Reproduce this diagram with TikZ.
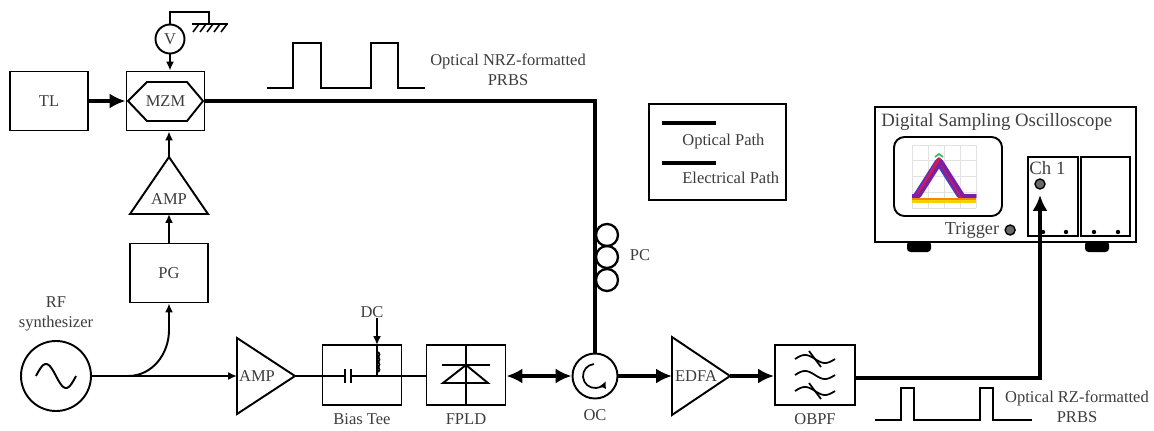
\documentclass[tikz,border=0pt]{standalone}
\usepackage{fontspec}
\setmainfont{Liberation Serif}
\usepackage{tikz}
\usetikzlibrary{arrows.meta,positioning,calc}
\definecolor{LabelGray}{HTML}{3C3C3C}
\definecolor{PanelGray}{HTML}{404040}
\definecolor{GridGray}{HTML}{E2E2E2}
\definecolor{KnobGray}{HTML}{6A6A6A}
\definecolor{EyeYellow}{HTML}{F2D500}
\definecolor{EyeOrange}{HTML}{F08A00}
\definecolor{EyeRed}{HTML}{D6202A}
\definecolor{EyeMagenta}{HTML}{C0198C}
\definecolor{EyePurple}{HTML}{7A1FA8}
\definecolor{EyeBlue}{HTML}{3A4BD0}
\definecolor{EyeGreen}{HTML}{3DBB5A}

\begin{document}
\begin{tikzpicture}[
  x=0.2mm,y=0.2mm,
  lbl/.style={font=\fontsize{9.4}{11.4}\selectfont,text=LabelGray,align=center,inner sep=0pt},
  box/.style={draw,line width=1.1pt,minimum width=15.6mm,minimum height=11.8mm,inner sep=0pt,font=\fontsize{9.4}{11}\selectfont,text=LabelGray},
  dev/.style={draw,line width=1.1pt,line join=miter},
  elec/.style={line width=1.1pt},
  earr/.style={elec,-{Latex[length=5pt,width=4.5pt]}},
  opt/.style={line width=2.8pt},
  oarr/.style={opt,-{Latex[length=9pt,width=8.5pt]}},
  port/.style={circle,draw,line width=0.8pt,fill=KnobGray,minimum size=2mm,inner sep=0pt},
  panel/.style={draw,line width=1.1pt,inner sep=0pt}
]
\useasboundingbox (0,0) rectangle (1154,430);

\node[box] (tl) at (49,329) {TL};
\node[box] (mzm) at (165.5,329) {MZM};
\draw[dev] (128,329) -- (147,348) -- (187,348) -- (203,329) -- (187,309) -- (147,309) -- cycle;
\node[circle,draw,line width=1.1pt,minimum size=5.8mm,inner sep=0pt,font=\fontsize{9.4}{11}\selectfont,text=LabelGray] (vm) at (170,391) {V};
\coordinate (gnd) at (209,406);
\draw[elec] (vm.north) |- (209,418) -- (gnd);
\draw[elec] ($(gnd)+(-17,0)$) -- ++(36,0);
\foreach \k in {0,...,4} \draw[line width=0.9pt] ($(gnd)+(-10+7*\k,0)$) -- ++(-6,-8);
\draw[earr] (vm.south) -- (vm.south |- mzm.north);
\draw[oarr] (tl.east) -- (mzm.west);

\coordinate (amp1out) at (169,273);
\coordinate (amp1in) at (169,216);
\draw[dev] (130,216) -- (208,216) -- (amp1out) -- cycle;
\node[lbl] (amp1) at (169,231) {AMP};
\draw[earr] (amp1out) -- (amp1out |- mzm.south);
\node[box] (pg) at (169,157) {PG};
\draw[earr] (pg.north) -- (amp1in);

\node[circle,draw,line width=1.1pt,minimum size=14mm,inner sep=0pt] (rf) at (56,54) {};
\draw[elec,domain=0:360,samples=50] plot ({36+\x/9},{54+12*sin(\x)});
\node[lbl,above=1.8mm of rf] (rflbl) {RF\\synthesizer};
\coordinate (split) at (128,54);
\coordinate (amp2in) at (237,54);
\coordinate (amp2out) at (295,54);
\draw[earr] (rf.east) -- (amp2in);
\draw[earr] (split) to[out=0,in=-90] (169,100) -- (pg.south);
\draw[dev] (237,92) -- (amp2out) -- (237,16) -- cycle;
\node[lbl] (amp2) at (257,54) {AMP};

\node[box,minimum width=15.8mm,minimum height=12mm] (tee) at (362,55) {};
\node[lbl,below=1.5mm of tee] (teelbl) {Bias Tee};
\draw[elec] (amp2out) -- (345,54) (351,54) -- (amp2out -| tee.east);
\draw[line width=1.3pt] (345,47) -- (345,61) (351,47) -- (351,61);
\coordinate (dcin) at (377,85);
\draw[elec] (377,54) -- (dcin);
\foreach \k in {0,...,3} \draw[line width=1pt] (377,{58+5*\k}) arc (-90:90:2.5);
\node[lbl] (dc) at (372,118) {DC};
\draw[earr] (dc.south -| dcin) -- (dcin);

\node[box,minimum width=15.8mm,minimum height=12mm] (fpld) at (466,55) {};
\draw[elec] (fpld.north) -- (fpld.south);
\draw[elec] (442,65) -- (490,65);
\draw[dev] (443,47) -- (488,47) -- (466,65) -- cycle;
\node[lbl,below=1.5mm of fpld] (fpldlbl) {FPLD};
\draw[elec] (amp2out -| tee.east) -- (amp2out -| fpld.west);

\node[circle,draw,line width=1.1pt,minimum size=9mm,inner sep=0pt] (oc) at (595,54) {};
\draw[line width=1pt,-{Latex[length=4pt,width=4pt]}] ([shift={(95:12)}]oc.center) arc (95:335:12);
\node[lbl,below=2mm of oc] (oclbl) {OC};
\draw[opt,{Latex[length=9pt,width=8.5pt]}-{Latex[length=9pt,width=8.5pt]}] (fpld.east |- oc.west) -- (oc.west);
\draw[opt] (mzm.east) -| (oc.north);
\foreach \yy in {150,173,195} \draw[line width=1.3pt] (607,\yy) circle (11);
\node[lbl] (pclbl) at (640,175) {PC};

\coordinate (edfain) at (672,54);
\coordinate (edfaout) at (730,54);
\draw[dev] (672,93) -- (edfaout) -- (672,15) -- cycle;
\node[lbl] (edfa) at (696,54) {EDFA};
\draw[oarr] (oc.east) -- (edfain);

\node[box,minimum width=16mm,minimum height=12mm] (obpf) at (815,55) {};
\foreach \dy in {16,0,-16} \draw[line width=1pt,domain=0:360,samples=30] plot ({795+\x/9},{55+\dy+4*sin(\x)});
\draw[line width=1pt] (809,79) -- (821,63) (809,47) -- (821,31);
\node[lbl,below=1.5mm of obpf] (obpflbl) {OBPF};
\draw[oarr] (edfaout) -- (edfaout -| obpf.west);

\node[panel,minimum width=52.2mm,minimum height=27mm] (dso) at (1005.5,255.5) {};
\node[font=\fontsize{10.7}{12}\selectfont,anchor=north west,inner sep=0pt,text=PanelGray] (dsotitle) at ([xshift=1.4mm,yshift=-1.5mm]dso.north west) {Digital Sampling Oscilloscope};
\node[panel,rounded corners=6pt,minimum width=21.6mm,minimum height=15.8mm] (screen) at (948,253.5) {};
\foreach \gx in {912,928,944,960,976} \draw[GridGray,line width=0.5pt] (\gx,222) -- (\gx,285);
\foreach \gy in {222,238,254,270,285} \draw[GridGray,line width=0.5pt] (912,\gy) -- (976,\gy);
\foreach \c/\s in {EyeBlue/-2.5,EyePurple/-1.2,EyeMagenta/0,EyeRed/1.2,EyePurple/2.4}
  \draw[\c,line width=2pt,line join=round] (912,234) -- ({917+\s},234) -- ({939+\s},{271-abs(\s)}) -- ({961+\s},234) -- (976,234);
\draw[EyeOrange,line width=1.6pt] (912,231) -- (976,231);
\draw[EyeYellow,line width=1.6pt] (912,228.5) -- (976,228.5);
\draw[EyeGreen,line width=1pt] (935,273) -- (939,276) -- (943,273);
\node[panel,minimum width=10mm,minimum height=15.8mm] (ch1box) at (1053,233.5) {};
\node[panel,minimum width=9.8mm,minimum height=15.8mm] (ch2box) at (1105.5,233.5) {};
\node[font=\fontsize{10.7}{12}\selectfont,anchor=north west,inner sep=0pt,text=PanelGray] (ch1lbl) at ([xshift=0.4mm,yshift=-1mm]ch1box.north west) {Ch 1};
\node[port] (ch1) at (1040,246) {};
\foreach \dx in {1043,1066,1094,1118} \fill (\dx,198) circle (2.2);
\node[font=\fontsize{10.4}{12}\selectfont,inner sep=0pt,text=PanelGray] (trig) at (972,200) {Trigger};
\node[port,right=1mm of trig] (trigport) {};
\fill[rounded corners=2pt] (907,189) rectangle (931,178);
\fill[rounded corners=2pt] (1085,189) rectangle (1109,178);
\draw[oarr,shorten >=3pt] (obpf.east |- 0,52) -| (ch1.south);

\node[panel,minimum width=27.4mm,minimum height=19.2mm] (legend) at (717.5,278) {};
\draw[opt] (662,307) -- (716,307);
\node[lbl,anchor=west] (optlbl) at (682,288) {Optical Path};
\draw[line width=1.8pt] (662,267) -- (716,267);
\node[lbl,anchor=west] (eleclbl) at (682,252) {Electrical Path};

\draw[line width=1.4pt] (267,342) -- (293,342) -- (293,387) -- (321,387) -- (321,342) -- (371,342) -- (371,387) -- (398,387) -- (398,342) -- (425,342);
\node[lbl] (nrzlbl) at (508,360) {Optical NRZ-formatted\\PRBS};
\draw[line width=1.4pt] (875,10) -- (901,10) -- (901,42) -- (914,42) -- (914,10) -- (980,10) -- (980,42) -- (993,42) -- (993,10) -- (1032,10);
\node[lbl] (rzlbl) at (1077,23) {Optical RZ-formatted\\PRBS};
\end{tikzpicture}
\end{document}
